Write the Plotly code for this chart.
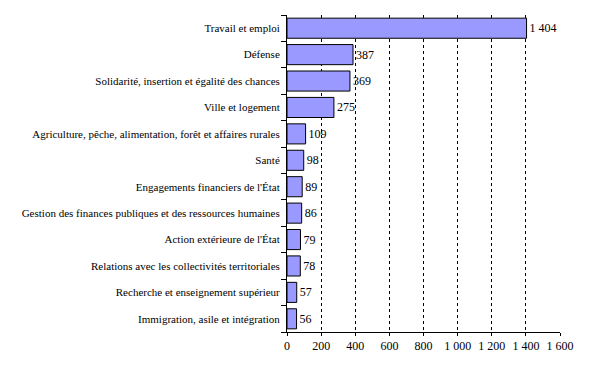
import plotly.graph_objects as go

categories = [
    "Travail et emploi",
    "Défense",
    "Solidarité, insertion et égalité des chances",
    "Ville et logement",
    "Agriculture, pêche, alimentation, forêt et affaires rurales",
    "Santé",
    "Engagements financiers de l'État",
    "Gestion des finances publiques et des ressources humaines",
    "Action extérieure de l'État",
    "Relations avec les collectivités territoriales",
    "Recherche et enseignement supérieur",
    "Immigration, asile et intégration",
]
values = [1404, 387, 369, 275, 109, 98, 89, 86, 79, 78, 57, 56]
x_ticks = [0, 200, 400, 600, 800, 1000, 1200, 1400, 1600]

font_family = "Times New Roman, serif"

fig = go.Figure(
    go.Bar(
        x=values,
        y=categories,
        orientation="h",
        marker=dict(color="#9999FF", line=dict(color="#000000", width=1)),
        text=values,
        texttemplate="%{x:,}",
        textposition="outside",
        cliponaxis=False,
        textfont=dict(family=font_family, size=12, color="#000000"),
        width=0.76,
    )
)

fig.update_layout(
    width=581,
    height=368,
    margin=dict(l=279, r=29, t=7, b=44, autoexpand=False),
    paper_bgcolor="#FFFFFF",
    plot_bgcolor="#FFFFFF",
    separators=", ",
    showlegend=False,
    font=dict(family=font_family, size=11, color="#000000"),
)

fig.update_xaxes(
    range=[0, 1600],
    tickvals=x_ticks,
    tickformat=",",
    showgrid=True,
    gridcolor="#000000",
    griddash="3px,3px",
    gridwidth=1,
    showline=True,
    linecolor="#000000",
    linewidth=1,
    ticks="outside",
    ticklen=3,
    tickcolor="#000000",
    zeroline=False,
    automargin=False,
    tickfont=dict(family=font_family, size=12),
    fixedrange=True,
)

fig.update_yaxes(
    categoryorder="array",
    categoryarray=categories[::-1],
    range=[-0.5, len(categories) - 0.5],
    showline=True,
    linecolor="#000000",
    linewidth=1,
    ticks="outside",
    ticklen=5,
    tickcolor="#000000",
    tickson="boundaries",
    showgrid=False,
    automargin=False,
    tickfont=dict(family=font_family, size=11),
    ticklabelstandoff=4,
    fixedrange=True,
)

fig.write_html("out.html")
